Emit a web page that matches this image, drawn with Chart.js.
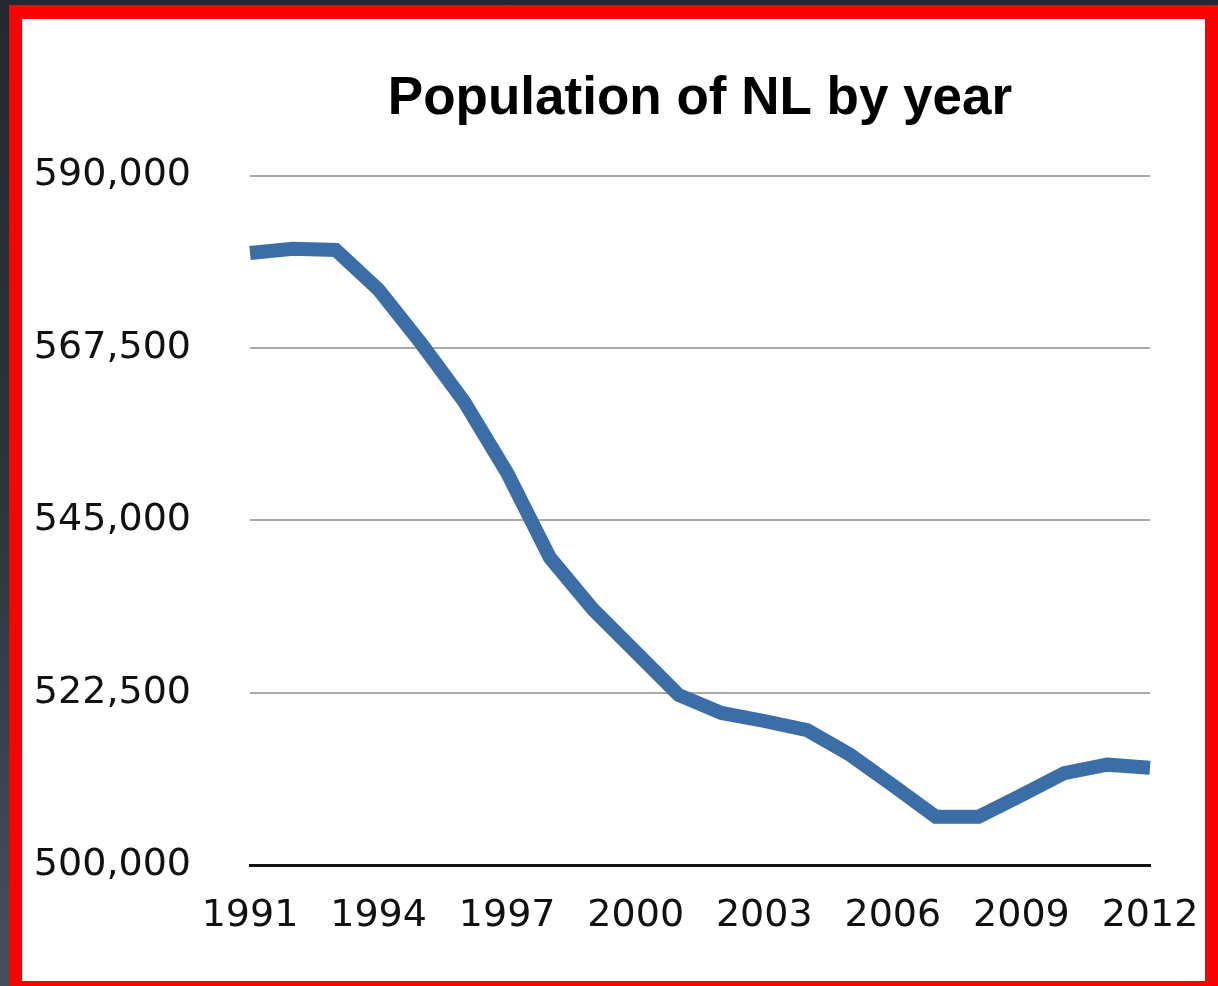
<!DOCTYPE html>
<html>
<head>
<meta charset="utf-8">
<script src="https://cdn.jsdelivr.net/npm/chart.js@4/dist/chart.umd.min.js"></script>
<style>
  html, body { margin: 0; padding: 0; }
  body {
    width: 1218px; height: 986px; overflow: hidden; position: relative;
    background: linear-gradient(180deg, #222932 0%, #2c343e 50%, #46505b 100%);
  }
  #frame {
    position: absolute; left: 9px; top: 5px; width: 1209px; height: 990px;
    box-sizing: border-box; border: solid #ff0000;
    border-width: 14px 13px 14px 13px; background: #ffffff;
  }
  #chart { position: absolute; left: 0; top: 0; width: 1218px; height: 986px; }
</style>
</head>
<body>
<div id="frame"></div>
<canvas id="chart" width="1218" height="986"></canvas>
<script>
const chartTitle = 'Population of NL by year';
const years = ['1991','1992','1993','1994','1995','1996','1997','1998','1999','2000','2001',
               '2002','2003','2004','2005','2006','2007','2008','2009','2010','2011','2012'];
const population = [579900, 580450, 580300, 575100, 568050, 560450, 551200, 540100, 533400, 527800, 522200,
                    519850, 518800, 517600, 514400, 510400, 506300, 506300, 509100, 512000, 513100, 512700];
const yTickValues = [500000, 522500, 545000, 567500, 590000];
const xLabelEvery = 3;

new Chart(document.getElementById('chart'), {
  type: 'line',
  data: {
    labels: years,
    datasets: [{
      label: 'Population',
      data: population,
      borderColor: '#3b6ea6',
      backgroundColor: '#3b6ea6',
      borderWidth: 14,
      tension: 0,
      pointRadius: 0,
      pointHoverRadius: 0,
      borderCapStyle: 'butt',
      borderJoinStyle: 'miter',
      clip: false
    }]
  },
  options: {
    responsive: false,
    animation: false,
    devicePixelRatio: 1,
    layout: { padding: { left: 0, right: 68, top: 0, bottom: 0 } },
    plugins: {
      legend: { display: false },
      tooltip: { enabled: false },
      title: {
        display: true,
        text: chartTitle,
        fullSize: false,
        color: '#000000',
        font: { family: '"Liberation Sans", Arial, sans-serif', size: 53, weight: 'bold' },
        padding: { top: 68, bottom: 44 }
      }
    },
    scales: {
      x: {
        type: 'category',
        offset: false,
        grid: { display: false, drawTicks: false },
        border: { display: true, color: '#111111', width: 3 },
        afterFit: (s) => { s.height = 121; },
        ticks: {
          autoSkip: false,
          maxRotation: 0,
          minRotation: 0,
          padding: 0,
          color: '#111111',
          font: { family: '"DejaVu Sans", sans-serif', size: 38, lineHeight: 2.71 },
          callback: function (value, index) {
            return index % xLabelEvery === 0 ? years[index] : '';
          }
        }
      },
      y: {
        min: yTickValues[0],
        max: yTickValues[yTickValues.length - 1],
        afterFit: (s) => { s.width = 250; },
        afterBuildTicks: (s) => { s.ticks = yTickValues.map(v => ({ value: v })); },
        grid: { color: '#aaaaaa', lineWidth: 2, drawTicks: false },
        border: { display: false },
        ticks: {
          padding: 59,
          color: '#111111',
          font: { family: '"DejaVu Sans", sans-serif', size: 38 },
          callback: (v) => Number(v).toLocaleString('en-US')
        }
      }
    }
  }
});
</script>
</body>
</html>
